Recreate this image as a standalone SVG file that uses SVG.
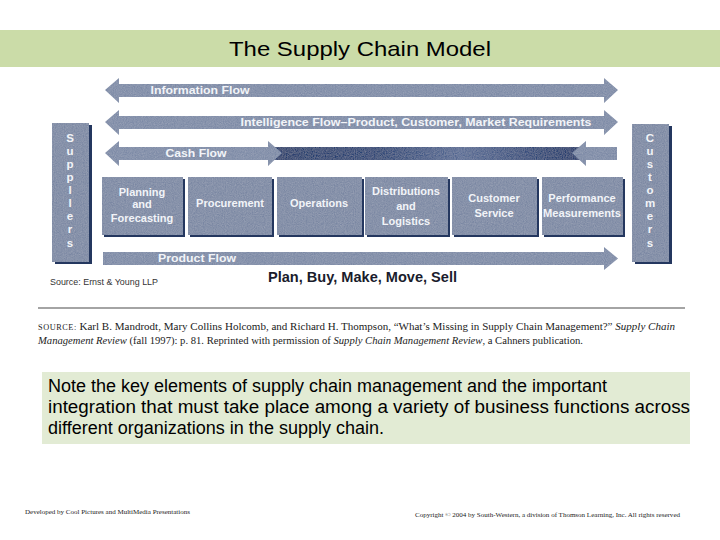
<svg xmlns="http://www.w3.org/2000/svg" width="720" height="540" viewBox="0 0 720 540">
<defs>
<style>
.arrow{fill:#7b89a6}
.box{fill:#7a87a3}
.shadow{fill:#24375f}
.lbl{font-family:"Liberation Sans",Arial,sans-serif;font-weight:bold;fill:#f2f4f8;text-anchor:middle}
.al{font-size:11.5px}
.bl{font-size:11px}
.vl{font-size:11.5px}
.src{font-family:"Liberation Serif","Times New Roman",serif;font-size:10px;fill:#222}
.foot{font-family:"Liberation Serif","Times New Roman",serif;font-size:6.5px;fill:#222}
.note{font-family:"Liberation Sans",Arial,sans-serif;font-size:17.5px;fill:#000}
</style>
<linearGradient id="cash" x1="268" y1="0" x2="590" y2="0" gradientUnits="userSpaceOnUse">
<stop offset="0" stop-color="#1f386a"/>
<stop offset="0.35" stop-color="#2a4475"/>
<stop offset="0.6" stop-color="#586b94"/>
<stop offset="0.9" stop-color="#223c6f"/>
<stop offset="1" stop-color="#1d366a"/>
</linearGradient>
<filter id="grain" x="0" y="0" width="1" height="1">
<feTurbulence type="fractalNoise" baseFrequency="0.9" numOctaves="2" seed="3" result="n"/>
<feColorMatrix in="n" type="matrix" values="0 0 0 0 1  0 0 0 0 1  0 0 0 0 1  0.12 0.12 0.12 0 -0.12" result="w"/>
<feComposite in="w" in2="SourceGraphic" operator="in" result="wc"/>
<feMerge><feMergeNode in="SourceGraphic"/><feMergeNode in="wc"/></feMerge>
</filter>
</defs>
<rect width="720" height="540" fill="#ffffff"/>

<g id="title">
<rect x="0" y="30" width="720" height="37" fill="#cbdca8"/>
<text x="229" y="56" font-family="'Liberation Sans',Arial,sans-serif" font-size="21" fill="#000" textLength="262" lengthAdjust="spacingAndGlyphs">The Supply Chain Model</text>
</g>

<g id="connectors" filter="url(#grain)">
<polygon id="info-flow" class="arrow" points="105,90 119,78 119,84 604,84 604,78 618,90 604,103 604,97 119,97 119,103"/>
<polygon id="intel-flow" class="arrow" points="105,122 119,110 119,116 604,116 604,110 618,122 604,135 604,129 119,129 119,135"/>
<rect x="268" y="147" width="322" height="13" fill="url(#cash)"/>
<polygon class="arrow" points="105,153 119,141 119,147 268,147 268,141 282,153 268,166 268,160 119,160 119,166"/>
<polygon class="arrow" points="572,153 586,141 586,147 617,147 617,160 586,160 586,166"/>
<polygon id="product-flow" class="arrow" points="103,252 604,252 604,247 618,258.5 604,270 604,265 103,265"/>
</g>
<g id="connector-labels">
<text class="lbl al" x="200" y="94" textLength="99" lengthAdjust="spacingAndGlyphs">Information Flow</text>
<text class="lbl al" x="416" y="126" textLength="351" lengthAdjust="spacingAndGlyphs">Intelligence Flow–Product, Customer, Market Requirements</text>
<text class="lbl al" x="196" y="157" textLength="61" lengthAdjust="spacingAndGlyphs">Cash Flow</text>
<text class="lbl al" x="197" y="262" textLength="78" lengthAdjust="spacingAndGlyphs">Product Flow</text>
</g>

<g id="suppliers">
<rect class="shadow" x="55" y="125" width="37" height="139"/>
<rect class="box" x="52" y="123" width="37" height="139" filter="url(#grain)"/>
<text class="lbl vl" x="70"><tspan x="70" y="142">S</tspan><tspan x="70" y="155">u</tspan><tspan x="70" y="168">p</tspan><tspan x="70" y="181">p</tspan><tspan x="70" y="194">l</tspan><tspan x="70" y="207">l</tspan><tspan x="70" y="220">e</tspan><tspan x="70" y="233">r</tspan><tspan x="70" y="247">s</tspan></text>
</g>

<g id="customers">
<rect class="shadow" x="635" y="126" width="37" height="138"/>
<rect class="box" x="632" y="124" width="37" height="138" filter="url(#grain)"/>
<text class="lbl vl" x="650"><tspan x="650" y="142">C</tspan><tspan x="650" y="155">u</tspan><tspan x="650" y="168">s</tspan><tspan x="650" y="181">t</tspan><tspan x="650" y="194">o</tspan><tspan x="650" y="207">m</tspan><tspan x="650" y="220">e</tspan><tspan x="650" y="233">r</tspan><tspan x="650" y="247">s</tspan></text>
</g>

<g id="planning">
<rect class="shadow" x="104" y="179" width="81" height="58"/>
<rect class="box" x="102" y="177" width="81" height="58" filter="url(#grain)"/>
<text class="lbl bl"><tspan x="142" y="196">Planning</tspan><tspan x="142" y="208">and</tspan><tspan x="142" y="222">Forecasting</tspan></text>
</g>
<g id="procurement">
<rect class="shadow" x="190" y="179" width="84" height="58"/>
<rect class="box" x="188" y="177" width="84" height="58" filter="url(#grain)"/>
<text class="lbl bl" x="230" y="207">Procurement</text>
</g>
<g id="operations">
<rect class="shadow" x="279" y="179" width="85" height="58"/>
<rect class="box" x="277" y="177" width="85" height="58" filter="url(#grain)"/>
<text class="lbl bl" x="319" y="207">Operations</text>
</g>
<g id="distributions">
<rect class="shadow" x="367" y="179" width="83" height="58"/>
<rect class="box" x="365" y="177" width="83" height="58" filter="url(#grain)"/>
<text class="lbl bl"><tspan x="406" y="195">Distributions</tspan><tspan x="406" y="210">and</tspan><tspan x="406" y="225">Logistics</tspan></text>
</g>
<g id="customer-service">
<rect class="shadow" x="454" y="179" width="85" height="58"/>
<rect class="box" x="452" y="177" width="85" height="58" filter="url(#grain)"/>
<text class="lbl bl"><tspan x="494" y="202">Customer</tspan><tspan x="494" y="217">Service</tspan></text>
</g>
<g id="performance">
<rect class="shadow" x="544" y="179" width="81" height="58"/>
<rect class="box" x="542" y="177" width="81" height="58" filter="url(#grain)"/>
<text class="lbl bl"><tspan x="582" y="202">Performance</tspan><tspan x="582" y="217" textLength="78" lengthAdjust="spacingAndGlyphs">Measurements</tspan></text>
</g>

<g id="captions">
<text x="50" y="285" font-family="'Liberation Sans',Arial,sans-serif" font-size="9" fill="#333" textLength="108" lengthAdjust="spacingAndGlyphs">Source: Ernst &amp; Young LLP</text>
<text x="268" y="282" font-family="'Liberation Sans',Arial,sans-serif" font-size="14" font-weight="bold" fill="#1a1c2c" textLength="189" lengthAdjust="spacingAndGlyphs">Plan, Buy, Make, Move, Sell</text>
</g>

<g id="source">
<line x1="38" y1="308" x2="685" y2="308" stroke="#4a4a4a" stroke-width="1.2"/>
<text class="src" x="38" y="330" textLength="637" lengthAdjust="spacingAndGlyphs"><tspan font-size="7.5" letter-spacing="0.5">SOURCE:</tspan>   Karl B. Mandrodt, Mary Collins Holcomb, and Richard H. Thompson, “What’s Missing in Supply Chain Management?” <tspan font-style="italic">Supply Chain</tspan></text>
<text class="src" x="38" y="344" textLength="545" lengthAdjust="spacingAndGlyphs"><tspan font-style="italic">Management Review</tspan> (fall 1997): p. 81. Reprinted with permission of <tspan font-style="italic">Supply Chain Management Review</tspan>, a Cahners publication.</text>
</g>

<g id="note">
<rect x="42" y="372" width="648" height="72" fill="#e2ebd4"/>
<text class="note" x="48" y="392" textLength="559" lengthAdjust="spacingAndGlyphs">Note the key elements of supply chain management and the important</text>
<text class="note" x="48" y="413" textLength="642" lengthAdjust="spacingAndGlyphs">integration that must take place among a variety of business functions across</text>
<text class="note" x="48" y="434" textLength="336" lengthAdjust="spacingAndGlyphs">different organizations in the supply chain.</text>
</g>

<g id="footer">
<text class="foot" x="25" y="514" textLength="165" lengthAdjust="spacingAndGlyphs">Developed by Cool Pictures and MultiMedia Presentations</text>
<text class="foot" x="415" y="517" textLength="265" lengthAdjust="spacingAndGlyphs">Copyright © 2004 by South-Western, a division of Thomson Learning, Inc. All rights reserved</text>
</g>
</svg>
